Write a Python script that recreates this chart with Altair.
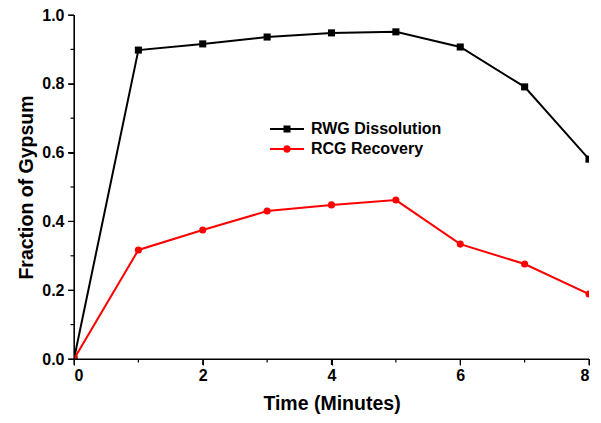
import altair as alt
import pandas as pd

time_min = [0, 1, 2, 3, 4, 5, 6, 7, 8]
rwg_dissolution = [0.0, 0.898, 0.916, 0.936, 0.948, 0.951, 0.907, 0.791, 0.581]
rcg_recovery = [0.0, 0.317, 0.375, 0.430, 0.448, 0.462, 0.334, 0.276, 0.189]
series_names = ["RWG Dissolution", "RCG Recovery"]
series_colors = ["#000000", "#ff0000"]
x_ticks = [0, 2, 4, 6, 8]
x_minor = [1, 3, 5, 7]
y_ticks = [0.0, 0.2, 0.4, 0.6, 0.8, 1.0]
y_minor = [0.1, 0.3, 0.5, 0.7, 0.9]

rows = []
for t, a, b in zip(time_min, rwg_dissolution, rcg_recovery):
    rows.append({"t": t, "v": a, "s": series_names[0]})
    rows.append({"t": t, "v": b, "s": series_names[1]})
df = pd.DataFrame(rows)

FONT = "Liberation Sans"
W, H = 515, 344
xs = alt.Scale(domain=[0, 8], nice=False)
ys = alt.Scale(domain=[0, 1.0], nice=False)
cs = alt.Scale(domain=series_names, range=series_colors)

# legend glyphs: line with a marker (units of 5 px)
sq = "M-1,-0.2H5.8V0.2H-1Z M1.7,-0.7H3.1V0.7H1.7Z"
ci = "M-1,-0.2H5.8V0.2H-1Z M1.65,0A0.75,0.75,0,1,1,3.15,0A0.75,0.75,0,1,1,1.65,0Z"
shp = alt.Scale(domain=series_names, range=[sq, ci])

legend = alt.Legend(
    title=None, orient="none", legendX=193, legendY=106,
    labelFont=FONT, labelFontWeight="bold", labelFontSize=16, labelColor="black",
    symbolSize=100, symbolStrokeWidth=0, symbolOpacity=1, labelOffset=28, rowPadding=4,
)

xaxis = alt.Axis(values=x_ticks, format="d", title="Time (Minutes)", grid=False,
                 labelFont=FONT, labelFontWeight="bold", labelFontSize=16, labelColor="black",
                 titleFont=FONT, titleFontWeight="bold", titleFontSize=19.5, titleColor="black",
                 tickSize=6, ticks=True, domain=True, tickColor="black", domainColor="black",
                 labelPadding=2, titlePadding=11)
yaxis = alt.Axis(values=y_ticks, format=".1f", title="Fraction of Gypsum", grid=False,
                 labelFont=FONT, labelFontWeight="bold", labelFontSize=16, labelColor="black",
                 titleFont=FONT, titleFontWeight="bold", titleFontSize=19.5, titleColor="black",
                 tickSize=6, ticks=True, domain=True, tickColor="black", domainColor="black",
                 labelPadding=4, titlePadding=5)

base = alt.Chart(df).encode(
    x=alt.X("t:Q", scale=xs, axis=xaxis),
    y=alt.Y("v:Q", scale=ys, axis=yaxis),
)

layers = []
for name, col, shape in zip(series_names, series_colors, ["square", "circle"]):
    sub = base.transform_filter(alt.datum.s == name)
    layers.append(sub.mark_line(strokeWidth=2, clip=True, color=col))
    layers.append(sub.mark_point(shape=shape, filled=True, size=50, opacity=1, clip=True, color=col))

legend_layer = base.mark_point(filled=True, opacity=0, size=10).encode(
    color=alt.Color("s:N", scale=cs, legend=legend, sort=series_names),
    shape=alt.Shape("s:N", scale=shp, legend=legend, sort=series_names),
)

# axis lines and tick marks (minor and major), positioned through the scales
xm = alt.Chart(pd.DataFrame({"m": x_minor})).mark_rule(color="black", strokeWidth=1.2).encode(
    x=alt.X("m:Q", scale=xs, axis=xaxis), y=alt.value(H), y2=alt.value(H + 3.5))
ym = alt.Chart(pd.DataFrame({"m": y_minor})).mark_rule(color="black", strokeWidth=1.2).encode(
    y=alt.Y("m:Q", scale=ys, axis=yaxis), x=alt.value(0), x2=alt.value(-3.5))
xM = alt.Chart(pd.DataFrame({"mj": x_ticks})).mark_rule(color="black", strokeWidth=1.2).encode(
    x=alt.X("mj:Q", scale=xs, axis=xaxis), y=alt.value(H), y2=alt.value(H + 6))
yM = alt.Chart(pd.DataFrame({"mj": y_ticks})).mark_rule(color="black", strokeWidth=1.2).encode(
    y=alt.Y("mj:Q", scale=ys, axis=yaxis), x=alt.value(0), x2=alt.value(-6))
xdom = alt.Chart(pd.DataFrame({"a": [0], "b": [8]})).mark_rule(color="black", strokeWidth=1.2).encode(
    x=alt.X("a:Q", scale=xs, axis=xaxis), x2="b:Q", y=alt.value(H))
ydom = alt.Chart(pd.DataFrame({"a": [0.0], "b": [1.0]})).mark_rule(color="black", strokeWidth=1.2).encode(
    y=alt.Y("a:Q", scale=ys, axis=yaxis), y2="b:Q", x=alt.value(0))

chart = alt.layer(*layers, legend_layer, xm, ym, xM, yM, xdom, ydom).properties(
    width=W, height=H,
    background="white",
    autosize=alt.AutoSizeParams(type="none"),
    padding={"left": 66, "top": 7, "right": 4, "bottom": 56},
).configure_view(stroke=None)

chart.save("out.html", embed_options={"renderer": "svg", "actions": False})
